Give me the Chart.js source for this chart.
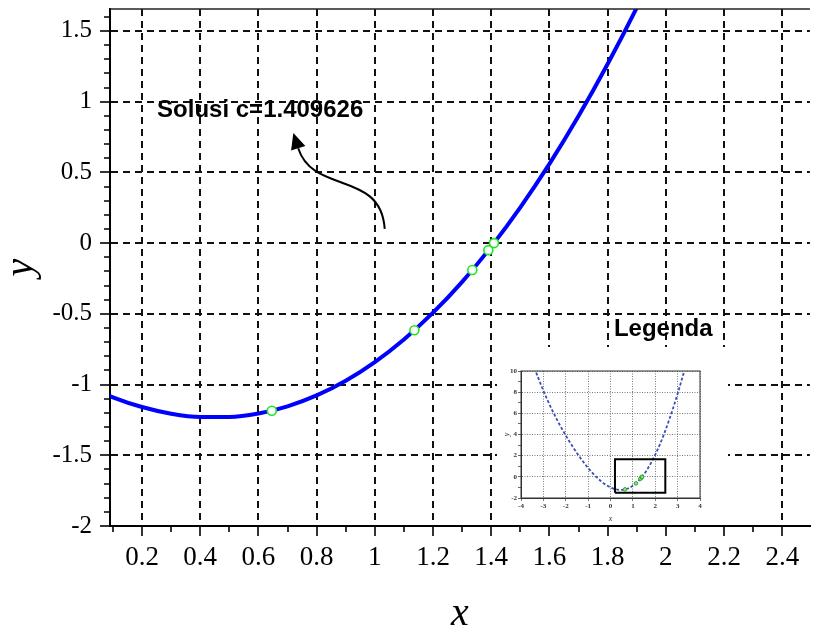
<!DOCTYPE html>
<html>
<head>
<meta charset="utf-8">
<title>Solusi c=1.409626</title>
<script src="https://cdn.jsdelivr.net/npm/chart.js@4.4.1/dist/chart.umd.min.js"></script>
<style>
  body { margin: 0; background: #fff; }
  #wrap { position: relative; width: 816px; height: 628px; }
  #grafKurva { position: absolute; left: 0; top: 0; }
  #legenda { position: absolute; left: 497px; top: 347px; width: 231px; height: 178px; background: #fff; }
  #grafMini { display: block; }
</style>
</head>
<body>
<div id="wrap">
  <canvas id="grafKurva" width="816" height="628"></canvas>
  <div id="legenda"><canvas id="grafMini" width="231" height="178"></canvas></div>
</div>
<script>
// kurva biru
const kurvaX = [0, 0.1, 0.2, 0.3, 0.4, 0.5, 0.6, 0.7, 0.8, 0.9, 1.0, 1.1, 1.2, 1.3, 1.4, 1.5, 1.6, 1.7, 1.8, 1.9, 2.0]
const kurvaY = [-1.0, -1.09, -1.159, -1.206, -1.229, -1.229, -1.205, -1.154, -1.077, -0.973, -0.841, -0.681, -0.492, -0.274, -0.025, 0.253, 0.56, 0.898, 1.266, 1.664, 2.091]

// titik iterasi (lingkaran hijau)
const iterX = [0.646, 1.136, 1.335, 1.39, 1.4096]
const iterY = [-1.185, -0.616, -0.19, -0.05, 0]

// label sumbu
const tickX = [0.2, 0.4, 0.6, 0.8, 1, 1.2, 1.4, 1.6, 1.8, 2, 2.2, 2.4]
const tickY = [-2, -1.5, -1, -0.5, 0, 0.5, 1, 1.5]

// anotasi (koordinat data)
const teksSolusi = 'Solusi c=1.409626'
const posSolusi = [0.606, 0.888]
const teksLegenda = 'Legenda'
const posLegenda = [1.991, -0.654]
const panahX = [1.034, 1.02, 0.788, 0.72]
const panahY = [0.101, 0.517, 0.341, 0.778]

// grafik kecil (legenda)
const miniX = [-3.4, -3.2, -3.0, -2.8, -2.6, -2.4, -2.2, -2.0, -1.8, -1.6, -1.4, -1.2, -1.0, -0.8, -0.6, -0.4, -0.2, 0, 0.2, 0.4, 0.6, 0.8, 1.0, 1.2, 1.4, 1.6, 1.8, 2.0, 2.2, 2.4, 2.6, 2.8, 3.0, 3.2, 3.4]
const miniY = [10.304, 9.182, 8.141, 7.175, 6.276, 5.435, 4.649, 3.909, 3.214, 2.56, 1.945, 1.372, 0.841, 0.357, -0.075, -0.451, -0.761, -1.0, -1.159, -1.229, -1.205, -1.077, -0.841, -0.492, -0.025, 0.56, 1.266, 2.091, 3.031, 4.085, 5.245, 6.505, 7.859, 9.298, 10.816]
const kotakX = [0.2, 2.45, 2.45, 0.2, 0.2]
const kotakY = [-1.5, -1.5, 1.65, 1.65, -1.5]
const miniTickX = [-4, -3, -2, -1, 0, 1, 2, 3, 4]
const miniTickY = [-2, 0, 2, 4, 6, 8, 10]

const keTitik = (xs, ys) => xs.map((v, i) => ({x: v, y: ys[i]}))
const dekat = (lista, v) => lista.some(t => Math.abs(t - v) < 1e-6)

Chart.defaults.color = '#000000'
Chart.defaults.font.family = '"Liberation Serif", "Times New Roman", serif'

// tick minor tiap 0.1
const minorX = []
for (let k = 1; k <= 24; k++) minorX.push(k / 10)
const minorY = []
for (let k = -20; k <= 16; k++) minorY.push(k / 10)

const anotasi = {
  id: 'anotasi',
  afterDraw(chart) {
    const {ctx, chartArea, scales: {x, y}} = chart
    ctx.save()
    // garis atas
    ctx.strokeStyle = '#222'
    ctx.lineWidth = 1.5
    ctx.beginPath()
    ctx.moveTo(chartArea.left, chartArea.top)
    ctx.lineTo(chartArea.right, chartArea.top)
    ctx.stroke()

    ctx.fillStyle = '#000'
    ctx.font = 'bold 24px "Liberation Sans", Arial, sans-serif'
    ctx.textAlign = 'center'
    ctx.textBaseline = 'alphabetic'
    ctx.fillText(teksSolusi, x.getPixelForValue(posSolusi[0]), y.getPixelForValue(posSolusi[1]))
    ctx.fillText(teksLegenda, x.getPixelForValue(posLegenda[0]), y.getPixelForValue(posLegenda[1]))

    // panah melengkung
    const p = panahX.map((v, i) => [x.getPixelForValue(v), y.getPixelForValue(panahY[i])])
    const dx = p[3][0] - p[2][0], dy = p[3][1] - p[2][1]
    const len = Math.hypot(dx, dy)
    const ux = dx / len, uy = dy / len
    const bx = p[3][0] - ux * 16, by = p[3][1] - uy * 16
    ctx.strokeStyle = '#000'
    ctx.lineWidth = 2
    ctx.beginPath()
    ctx.moveTo(p[0][0], p[0][1])
    ctx.bezierCurveTo(p[1][0], p[1][1], p[2][0], p[2][1], bx, by)
    ctx.stroke()
    ctx.beginPath()
    ctx.moveTo(p[3][0], p[3][1])
    ctx.lineTo(bx - uy * 7.5, by + ux * 7.5)
    ctx.lineTo(bx + uy * 7.5, by - ux * 7.5)
    ctx.closePath()
    ctx.fill()
    ctx.restore()
  }
}

const grafKurva = document.getElementById('grafKurva')
new Chart(grafKurva, {
  type: 'scatter',
  data: {
    datasets: [
      {
        data: keTitik(iterX, iterY),
        pointRadius: 4.5,
        pointBorderWidth: 1.6,
        pointBorderColor: '#1ee61e',
        pointBackgroundColor: '#ffffff',
        showLine: false
      },
      {
        data: keTitik(kurvaX, kurvaY),
        showLine: true,
        borderColor: '#0000ff',
        borderWidth: 4,
        pointRadius: 0,
        cubicInterpolationMode: 'monotone'
      }
    ]
  },
  options: {
    responsive: false,
    animation: false,
    layout: { padding: { top: 9, left: 0, right: 0, bottom: 0 } },
    plugins: {
      legend: { display: false },
      tooltip: { enabled: false }
    },
    scales: {
      x: {
        type: 'linear',
        position: 'bottom',
        min: 0.09,
        max: 2.495,
        afterBuildTicks: axis => { axis.ticks = minorX.map(v => ({value: v})) },
        afterFit: axis => { axis.height = 102; axis.paddingLeft = 0; axis.paddingRight = 0 },
        ticks: {
          autoSkip: false,
          maxRotation: 0,
          padding: 6,
          font: { size: 27 },
          color: '#000',
          callback: v => dekat(tickX, v) ? String(v) : ''
        },
        grid: {
          color: ctx => dekat(tickX, ctx.tick.value) ? '#111' : 'transparent',
          lineWidth: 2,
          tickLength: 10,
          tickColor: '#000',
          tickWidth: 1.6,
          tickBorderDash: ctx => dekat(tickX, ctx.tick.value) ? [] : [5, 30]
        },
        border: { color: '#000', width: 2, dash: [7, 5] },
        title: {
          display: true,
          text: 'x',
          color: '#000',
          font: { size: 40, style: 'italic', lineHeight: 0.6 },
          padding: { top: 0, bottom: 1.5 }
        }
      },
      y: {
        type: 'linear',
        position: 'left',
        min: -2,
        max: 1.655,
        afterBuildTicks: axis => { axis.ticks = minorY.map(v => ({value: v})) },
        afterFit: axis => { axis.width = 110; axis.paddingTop = 0; axis.paddingBottom = 0 },
        ticks: {
          autoSkip: false,
          padding: 8,
          font: { size: 25 },
          color: '#000',
          callback: v => dekat(tickY, v) ? String(v) : ''
        },
        grid: {
          color: ctx => dekat(tickY, ctx.tick.value) ? '#111' : 'transparent',
          lineWidth: 2,
          tickLength: 10,
          tickColor: '#000',
          tickWidth: 1.6,
          tickBorderDash: ctx => dekat(tickY, ctx.tick.value) ? [] : [0, 4, 5, 30]
        },
        border: { color: '#000', width: 2, dash: [7, 5] },
        title: {
          display: true,
          text: 'y',
          color: '#000',
          font: { size: 40, style: 'italic', lineHeight: 0.8 },
          padding: { top: 5, bottom: 0 }
        }
      }
    }
  },
  plugins: [anotasi]
})

// grafik kecil di kotak legenda
const bingkai = {
  id: 'bingkai',
  afterDraw(chart) {
    const {ctx, chartArea} = chart
    ctx.save()
    ctx.strokeStyle = '#333'
    ctx.lineWidth = 1
    ctx.strokeRect(chartArea.left, chartArea.top, chartArea.right - chartArea.left, chartArea.bottom - chartArea.top)
    ctx.restore()
  }
}

const minorMiniY = []
for (let k = -2; k <= 10; k++) minorMiniY.push(k)

const grafMini = document.getElementById('grafMini')
new Chart(grafMini, {
  type: 'scatter',
  data: {
    datasets: [
      {
        data: keTitik(iterX, iterY),
        pointRadius: 1.8,
        pointBorderWidth: 1,
        pointBorderColor: '#22aa22',
        pointBackgroundColor: '#8fe08f'
      },
      {
        data: keTitik(kotakX, kotakY),
        showLine: true,
        borderColor: '#000',
        borderWidth: 2,
        pointRadius: 0
      },
      {
        data: keTitik(miniX, miniY),
        showLine: true,
        borderColor: '#3c50b4',
        borderWidth: 1.8,
        borderDash: [3, 2],
        pointRadius: 0,
        cubicInterpolationMode: 'monotone'
      }
    ]
  },
  options: {
    responsive: false,
    animation: false,
    layout: { padding: { top: 24, right: 28, left: 0, bottom: 0 } },
    plugins: {
      legend: { display: false },
      tooltip: { enabled: false }
    },
    scales: {
      x: {
        min: -4,
        max: 4,
        afterBuildTicks: axis => { axis.ticks = miniTickX.map(v => ({value: v})) },
        afterFit: axis => { axis.height = 27 },
        ticks: { autoSkip: false, maxRotation: 0, padding: 1, font: { size: 7, weight: 'bold' }, color: '#333' },
        grid: { color: '#555', lineWidth: 0.8, tickLength: 3 },
        border: { color: '#333', width: 1, dash: [1, 1.5] },
        title: { display: true, text: 'x', color: '#333', font: { size: 8, style: 'italic' }, padding: { top: 0, bottom: 1 } }
      },
      y: {
        min: -2,
        max: 10,
        afterBuildTicks: axis => { axis.ticks = minorMiniY.map(v => ({value: v})) },
        afterFit: axis => { axis.width = 24 },
        ticks: {
          autoSkip: false,
          padding: 1,
          font: { size: 7, weight: 'bold' },
          color: '#333',
          callback: v => dekat(miniTickY, v) ? String(v) : ''
        },
        grid: {
          color: ctx => dekat(miniTickY, ctx.tick.value) ? '#555' : 'transparent',
          tickColor: '#444',
          lineWidth: 0.8,
          tickLength: 3
        },
        border: { color: '#333', width: 1, dash: [1, 1.5] },
        title: { display: true, text: 'y', color: '#333', font: { size: 8, style: 'italic' }, padding: { top: 5, bottom: 0 } }
      }
    }
  },
  plugins: [bingkai]
})
</script>
</body>
</html>
